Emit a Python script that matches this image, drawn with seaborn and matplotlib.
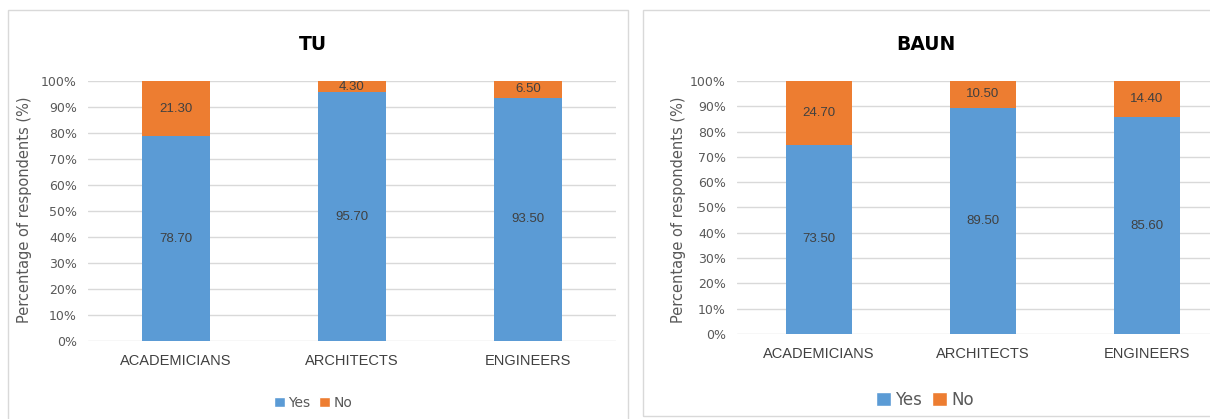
import numpy as np
import pandas as pd
import matplotlib
matplotlib.use("Agg")
import matplotlib.pyplot as plt
from matplotlib.patches import Rectangle, Patch
from matplotlib.ticker import FuncFormatter
import seaborn as sns

# Survey responses per institution (% of respondents)
groups = ["ACADEMICIANS", "ARCHITECTS", "ENGINEERS"]
tu_yes = [78.70, 95.70, 93.50]
tu_no = [21.30, 4.30, 6.50]
baun_yes = [73.50, 89.50, 85.60]
baun_no = [24.70, 10.50, 14.40]

BLUE = "#5B9BD5"
ORANGE = "#ED7D31"
GRID = "#D9D9D9"
TICK = "#595959"
LABEL = "#404040"

sns.set_theme(style="white")
plt.rcParams["font.family"] = ["DejaVu Sans"]

W, H = 1210, 419
fig = plt.figure(figsize=(W / 100, H / 100), dpi=100)


def px_axes(x0, x1, ytop, ybot):
    return fig.add_axes([x0 / W, (H - ybot) / H, (x1 - x0) / W, (ybot - ytop) / H])


# panel frames
for (x0, y0, x1, y1) in [(8, 10, 628, 430), (643, 10, 1230, 416)]:
    fig.patches.append(Rectangle((x0 / W, (H - y1) / H), (x1 - x0) / W, (y1 - y0) / H,
                                 transform=fig.transFigure, fill=False,
                                 edgecolor=GRID, linewidth=1.0, zorder=0))


def stacked(ax, yes, no, title, width, xlim, title_x, legend_xy, legend_size,
            handle_size, ylabel_x):
    yes = np.asarray(yes)
    no = np.asarray(no)
    total = yes + no
    df = pd.DataFrame({
        "group": groups,
        "yes_share": yes / total * 100,
        "full": np.full(len(groups), 100.0),
    })
    sns.barplot(data=df, x="group", y="full", color=ORANGE, width=width,
                saturation=1, ax=ax, zorder=3, linewidth=0)
    sns.barplot(data=df, x="group", y="yes_share", color=BLUE, width=width,
                saturation=1, ax=ax, zorder=4, linewidth=0)
    for i, (ys, yv, nv) in enumerate(zip(df["yes_share"], yes, no)):
        ax.text(i, ys / 2, f"{yv:.2f}", ha="center", va="center",
                fontsize=9.5, color=LABEL, zorder=5, family="Liberation Sans")
        ax.text(i, ys + (100 - ys) / 2, f"{nv:.2f}", ha="center", va="center",
                fontsize=9.5, color=LABEL, zorder=5, family="Liberation Sans")

    ax.set_ylim(0, 100)
    ax.set_xlim(*xlim)
    ax.set_yticks(np.arange(0, 101, 10))
    ax.yaxis.set_major_formatter(FuncFormatter(lambda v, _: f"{v:.0f}%"))
    ax.grid(axis="y", color=GRID, linewidth=1.0, zorder=0)
    ax.set_axisbelow(True)
    for s in ax.spines.values():
        s.set_visible(False)
    ax.tick_params(axis="y", length=0, labelsize=9, labelcolor=TICK, pad=8)
    ax.tick_params(axis="x", length=0, labelsize=10, labelcolor=LABEL, pad=9)
    for t in ax.get_xticklabels():
        t.set_fontfamily("Liberation Sans")
        t.set_fontsize(10.5)
    ax.set_xlabel("")
    ax.set_ylabel("Percentage of respondents (%)", fontsize=10.5, color=TICK)
    ax.yaxis.set_label_coords(ylabel_x, 0.5, transform=fig.transFigure)

    fig.text(title_x / W, (H - 44) / H, title, ha="center", va="center",
             fontsize=13.5, fontweight="bold", color="#000000")

    handles = [Patch(facecolor=BLUE, label="Yes"), Patch(facecolor=ORANGE, label="No")]
    fig.legend(handles=handles, loc="center", ncol=2, frameon=False,
               bbox_to_anchor=(legend_xy[0] / W, (H - legend_xy[1]) / H),
               fontsize=legend_size, handlelength=handle_size,
               handleheight=handle_size, handletextpad=0.25,
               columnspacing=0.6, labelcolor=TICK)


ax1 = px_axes(88, 616, 81, 341)
stacked(ax1, tu_yes, tu_no, "TU", width=0.39, xlim=(-0.5, 2.5),
        title_x=313, legend_xy=(313, 403), legend_size=10, handle_size=0.8,
        ylabel_x=32 / W)

ax2 = px_axes(737, 1210, 81, 334)
stacked(ax2, baun_yes, baun_no, "BAUN", width=0.40, xlim=(-0.5, 2.384),
        title_x=926, legend_xy=(925, 400), legend_size=12, handle_size=0.9,
        ylabel_x=686 / W)

fig.savefig("out.png", dpi=100, facecolor="white")
